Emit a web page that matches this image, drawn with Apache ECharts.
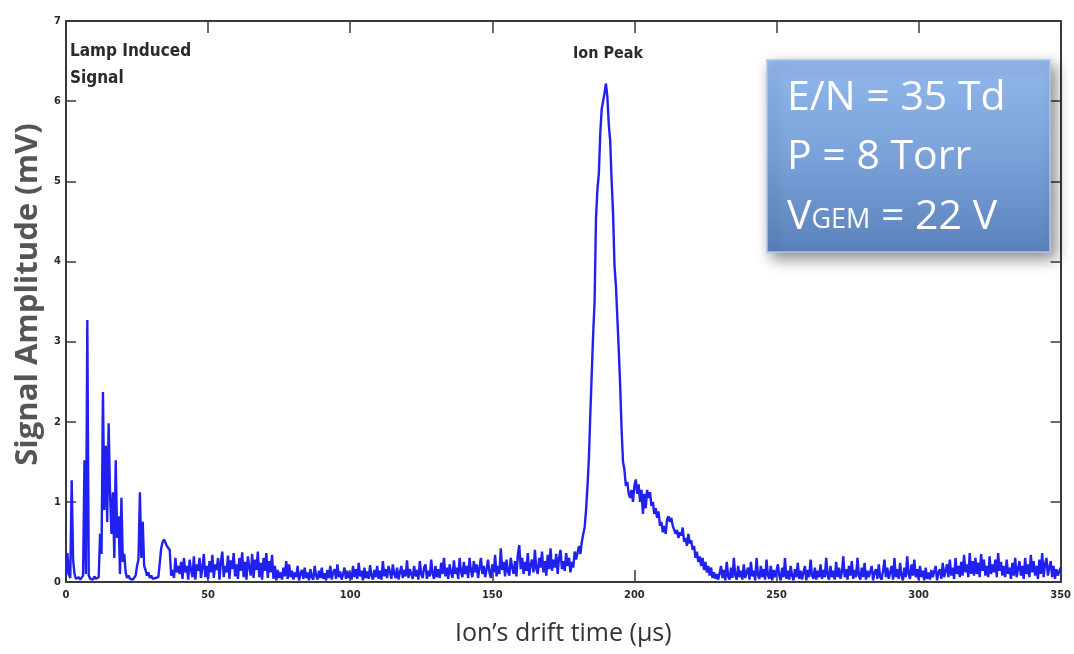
<!DOCTYPE html>
<html>
<head>
<meta charset="utf-8">
<title>Ion drift time signal</title>
<script src="https://cdn.jsdelivr.net/npm/echarts@6/dist/echarts.min.js"></script>
<style>
  html, body { margin: 0; padding: 0; background: #ffffff; }
  #chart { width: 1074px; height: 654px; }
</style>
</head>
<body>
<div id="chart"></div>
<script>
// Sampling interval of the recorded trace (µs)
const sampleStep = 0.5;

// Signal amplitude (mV), one value per sample, split by region of the trace
// 0 – 39.5 µs: lamp induced signal
const lampSignal = [
  0.08,0.36,0.1,0.05,1.27,0.28,0.1,0.04,0.03,0.06, 0.03,0.05,0.08,1.52,0.1,3.27,0.08,0.04,0.06,0.03,
  0.07,0.04,0.05,0.06,0.6,0.35,2.37,0.9,1.7,0.75, 1.98,1.1,0.6,1.12,0.3,1.52,0.55,0.82,0.1,1.05,
  0.25,0.35,0.12,0.05,0.08,0.04,0.06,0.03,0.05,0.08, 0.2,0.28,1.12,0.3,0.75,0.2,0.15,0.08,0.12,0.05,
  0.08,0.04,0.06,0.05,0.03,0.06,0.08,0.42,0.5,0.53, 0.49,0.45,0.44,0.4,0.08,0.15,0.05,0.3,0.12,0.2
];
// 40 – 179.5 µs: baseline before the ion peak
const driftBaseline = [
  0.1,0.25,0.04,0.3,0.12,0.2,0.03,0.28,0.15,0.06, 0.32,0.03,0.22,0.14,0.3,0.05,0.18,0.35,0.06,0.2,
  0.04,0.26,0.12,0.34,0.05,0.22,0.15,0.3,0.03,0.25, 0.38,0.06,0.2,0.12,0.33,0.04,0.27,0.16,0.36,0.07,
  0.22,0.04,0.3,0.14,0.37,0.06,0.25,0.03,0.32,0.18, 0.08,0.35,0.05,0.28,0.15,0.38,0.06,0.24,0.03,0.3,
  0.14,0.36,0.05,0.26,0.12,0.34,0.04,0.2,0.02,0.15, 0.05,0.12,0.03,0.18,0.07,0.26,0.04,0.22,0.06,0.14,
  0.03,0.12,0.06,0.2,0.02,0.1,0.15,0.04,0.18,0.05, 0.12,0.02,0.16,0.06,0.03,0.2,0.08,0.03,0.14,0.05,
  0.18,0.04,0.11,0.02,0.15,0.05,0.2,0.03,0.12,0.16, 0.04,0.22,0.06,0.13,0.03,0.1,0.18,0.04,0.14,0.05,
  0.12,0.03,0.2,0.06,0.16,0.04,0.24,0.07,0.14,0.02, 0.18,0.05,0.13,0.04,0.21,0.08,0.03,0.15,0.06,0.2,
  0.04,0.14,0.03,0.26,0.07,0.16,0.05,0.2,0.12,0.04, 0.22,0.1,0.05,0.18,0.03,0.12,0.2,0.05,0.15,0.07,
  0.27,0.05,0.16,0.1,0.04,0.2,0.07,0.15,0.03,0.26, 0.1,0.05,0.18,0.22,0.04,0.14,0.07,0.28,0.1,0.04,
  0.2,0.06,0.16,0.05,0.24,0.1,0.3,0.07,0.18,0.04, 0.22,0.12,0.05,0.27,0.1,0.18,0.04,0.3,0.13,0.06,
  0.25,0.1,0.2,0.05,0.3,0.14,0.06,0.26,0.12,0.22, 0.05,0.18,0.3,0.1,0.2,0.06,0.16,0.28,0.12,0.05,
  0.22,0.12,0.34,0.07,0.2,0.1,0.42,0.15,0.25,0.07, 0.28,0.13,0.08,0.3,0.18,0.1,0.26,0.07,0.35,0.46,
  0.16,0.3,0.1,0.25,0.14,0.36,0.08,0.22,0.28,0.12, 0.4,0.16,0.1,0.3,0.18,0.38,0.12,0.26,0.08,0.34,
  0.16,0.42,0.14,0.28,0.18,0.35,0.1,0.3,0.4,0.16, 0.26,0.14,0.36,0.2,0.3,0.12,0.25,0.18,0.38,0.28
];
// 180 – 229.5 µs: ion peak and its tail
const ionPeak = [
  0.3,0.45,0.35,0.5,0.6,0.68,0.9,1.2,1.55,2.1, 2.6,3.1,3.5,4.55,4.9,5.1,5.6,5.9,6.0,6.1,
  6.22,6.05,5.7,5.5,5.0,4.6,3.95,3.7,3.3,2.9, 2.45,1.9,1.5,1.4,1.2,1.25,1.1,1.05,1.15,1.0,
  1.2,1.28,1.1,1.22,1.0,1.15,0.85,1.1,0.92,1.15, 1.05,1.12,0.95,1.0,0.85,0.92,0.8,0.88,0.7,0.75,
  0.62,0.7,0.6,0.78,0.82,0.75,0.8,0.7,0.72,0.6, 0.65,0.55,0.62,0.58,0.68,0.5,0.55,0.45,0.6,0.48,
  0.52,0.4,0.45,0.3,0.38,0.25,0.32,0.2,0.3,0.15, 0.25,0.12,0.2,0.08,0.18,0.05,0.12,0.04,0.1,0.03
];
// 230 – 350 µs: baseline after the ion peak
const tailBaseline = [
  0.03,0.2,0.05,0.15,0.02,0.25,0.07,0.03,0.18,0.05, 0.3,0.08,0.03,0.2,0.06,0.14,0.03,0.22,0.05,0.12,
  0.18,0.03,0.25,0.07,0.14,0.02,0.3,0.08,0.04,0.2, 0.06,0.16,0.03,0.28,0.08,0.04,0.2,0.02,0.15,0.06,
  0.04,0.22,0.08,0.02,0.18,0.06,0.3,0.04,0.14,0.03, 0.2,0.08,0.02,0.16,0.06,0.24,0.04,0.14,0.03,0.12,
  0.2,0.02,0.15,0.06,0.28,0.08,0.04,0.18,0.03,0.14, 0.06,0.22,0.04,0.15,0.06,0.3,0.08,0.03,0.2,0.06,
  0.14,0.03,0.25,0.06,0.18,0.04,0.12,0.32,0.06,0.16, 0.03,0.2,0.08,0.26,0.04,0.15,0.06,0.3,0.08,0.03,
  0.18,0.06,0.24,0.03,0.14,0.06,0.04,0.2,0.02,0.12, 0.16,0.04,0.22,0.06,0.03,0.14,0.28,0.06,0.18,0.04,
  0.12,0.2,0.03,0.3,0.06,0.16,0.04,0.24,0.08,0.02, 0.18,0.06,0.32,0.1,0.04,0.22,0.08,0.28,0.06,0.16,
  0.03,0.2,0.06,0.14,0.02,0.18,0.04,0.12,0.03,0.15, 0.06,0.04,0.2,0.02,0.12,0.16,0.04,0.24,0.06,0.14,
  0.22,0.06,0.28,0.08,0.18,0.04,0.3,0.1,0.2,0.06, 0.25,0.08,0.34,0.12,0.22,0.06,0.36,0.1,0.26,0.08,
  0.3,0.1,0.24,0.06,0.35,0.14,0.28,0.08,0.2,0.06, 0.32,0.1,0.22,0.12,0.28,0.06,0.36,0.14,0.25,0.08,
  0.2,0.06,0.28,0.1,0.18,0.04,0.24,0.08,0.3,0.06, 0.16,0.26,0.08,0.2,0.04,0.3,0.1,0.22,0.06,0.34,
  0.12,0.26,0.08,0.2,0.04,0.28,0.1,0.36,0.06,0.22, 0.3,0.08,0.18,0.26,0.06,0.2,0.04,0.16,0.08,0.06,
  0.18
];

// Axis ranges
const timeRange = { min: 0, max: 350, interval: 50 };
const ampRange = { min: 0, max: 7, interval: 1 };

// Annotation and condition texts
const lampLabel = 'Lamp Induced\nSignal';
const peakLabel = 'Ion Peak';
const conditionLines = ['E/N = 35 Td', 'P = 8 Torr', '{v|V}{sub|GEM}{v| = 22 V}'];

const amplitudes = lampSignal.concat(driftBaseline, ionPeak, tailBaseline);
const trace = amplitudes.map((v, i) => [i * sampleStep, v]);

const chart = echarts.init(document.getElementById('chart'), null, { renderer: 'canvas' });

const frameColor = '#3a3a3a';
const tickFont = { fontSize: 11, fontWeight: 'bold', color: '#2a2a2a',
  fontFamily: '"DejaVu Sans Condensed", "Liberation Sans Narrow", "DejaVu Sans", sans-serif' };
const annFont = '"Liberation Sans Narrow", "DejaVu Sans Condensed", "Open Sans", sans-serif';
const frameLine = { show: true, onZero: false, lineStyle: { color: frameColor, width: 2 } };

const option = {
  backgroundColor: '#ffffff',
  animation: false,
  grid: { left: 66, right: 12, top: 21, bottom: 72, containLabel: false },
  xAxis: [
    {
      type: 'value', min: timeRange.min, max: timeRange.max, interval: timeRange.interval,
      name: 'Ion’s drift time (µs)', nameLocation: 'middle', nameGap: 39,
      nameTextStyle: { fontSize: 25, color: '#333333', fontFamily: '"Open Sans", sans-serif' },
      axisLine: frameLine,
      axisTick: { show: true, inside: true, length: 12, lineStyle: { color: frameColor, width: 1.5 } },
      axisLabel: Object.assign({ margin: 8 }, tickFont),
      splitLine: { show: false }
    },
    {
      type: 'value', position: 'top', min: timeRange.min, max: timeRange.max, interval: timeRange.interval,
      axisLine: frameLine,
      axisTick: { show: true, inside: true, length: 12, lineStyle: { color: frameColor, width: 1.5 } },
      axisLabel: { show: false },
      splitLine: { show: false }
    }
  ],
  yAxis: [
    {
      type: 'value', min: ampRange.min, max: ampRange.max, interval: ampRange.interval,
      name: 'Signal Amplitude (mV)', nameLocation: 'middle', nameGap: 19,
      nameTextStyle: { fontSize: 31, fontWeight: 'bold', color: '#555555',
        fontFamily: '"Open Sans", sans-serif', padding: [0, 0, 0, 14] },
      axisLine: frameLine,
      axisTick: { show: true, inside: true, length: 10, lineStyle: { color: frameColor, width: 1.5 } },
      axisLabel: Object.assign({ margin: 5 }, tickFont),
      splitLine: { show: false }
    },
    {
      type: 'value', position: 'right', min: ampRange.min, max: ampRange.max, interval: ampRange.interval,
      axisLine: frameLine,
      axisTick: { show: true, inside: true, length: 10, lineStyle: { color: frameColor, width: 1.5 } },
      axisLabel: { show: false },
      splitLine: { show: false }
    }
  ],
  series: [
    {
      type: 'line',
      data: trace,
      xAxisIndex: 0,
      yAxisIndex: 0,
      showSymbol: false,
      symbol: 'none',
      sampling: null,
      lineStyle: { color: '#2020f0', width: 2.4 },
      z: 3
    }
  ],
  graphic: [
    {
      type: 'text', left: 70, top: 38, z: 10,
      style: { text: lampLabel, fontSize: 17, fontWeight: 'bold', fill: '#2b2b2b',
        fontFamily: annFont, lineHeight: 27 }
    },
    {
      type: 'text', left: 573, top: 46, z: 10,
      style: { text: peakLabel, fontSize: 16, fontWeight: 'bold', fill: '#2b2b2b',
        fontFamily: annFont }
    },
    {
      type: 'rect', z: 20,
      shape: { x: 767, y: 60, width: 283, height: 192 },
      style: {
        fill: new echarts.graphic.LinearGradient(0, 0, 0, 1, [
          { offset: 0, color: '#92b8ec' },
          { offset: 0.5, color: '#7aa2d9' },
          { offset: 1, color: '#5b82bb' }
        ]),
        stroke: '#a9c6ee', lineWidth: 1.5,
        shadowBlur: 14, shadowOffsetX: 5, shadowOffsetY: 6, shadowColor: 'rgba(0,0,0,0.45)'
      }
    },
    {
      type: 'text', z: 21, x: 787, y: 98,
      style: { text: conditionLines[0], fontSize: 41, fill: '#ffffff',
        fontFamily: '"Open Sans", sans-serif', verticalAlign: 'middle' }
    },
    {
      type: 'text', z: 21, x: 787, y: 157,
      style: { text: conditionLines[1], fontSize: 41, fill: '#ffffff',
        fontFamily: '"Open Sans", sans-serif', verticalAlign: 'middle' }
    },
    {
      type: 'text', z: 21, x: 787, y: 212,
      style: {
        text: conditionLines[2], fill: '#ffffff', verticalAlign: 'middle',
        fontFamily: '"Open Sans", sans-serif',
        rich: {
          v: { fontSize: 41, fill: '#ffffff', color: '#ffffff', fontFamily: '"Open Sans", sans-serif', verticalAlign: 'bottom', lineHeight: 52 },
          sub: { fontSize: 27, fill: '#ffffff', color: '#ffffff', fontFamily: '"Open Sans", sans-serif', verticalAlign: 'bottom', lineHeight: 52, padding: [0, 0, 4, 0] }
        }
      }
    }
  ]
};

chart.setOption(option);
</script>
</body>
</html>
